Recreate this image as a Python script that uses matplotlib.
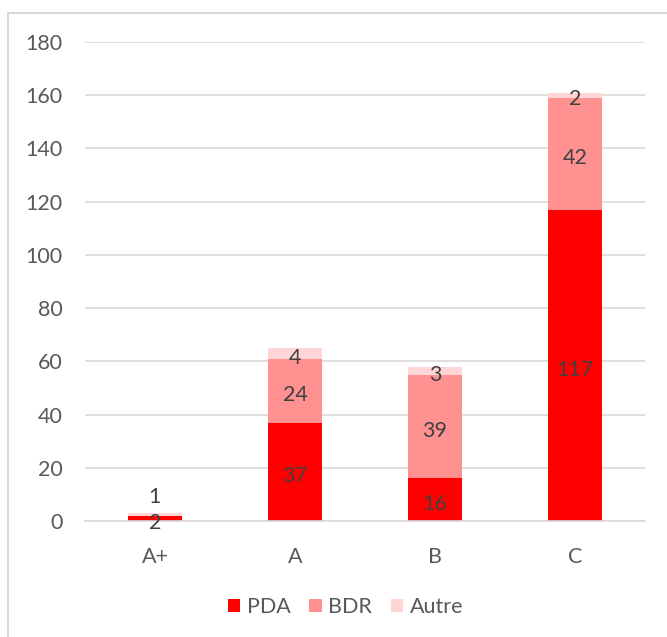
import matplotlib.pyplot as plt
import numpy as np
from matplotlib.lines import Line2D

plt.rcParams['font.family'] = ['Lato', 'DejaVu Sans']

categories = ['A+', 'A', 'B', 'C']
pda = [2, 37, 16, 117]
bdr = [0, 24, 39, 42]
autre = [1, 4, 3, 2]

colors = {'PDA': '#FF0000', 'BDR': '#FF9191', 'Autre': '#FFD5D5'}
text_color = '#595959'
label_color = '#404040'
fs = 15.5

fig = plt.figure(figsize=(6.67, 6.37), dpi=100)
ax = fig.add_axes([0.1274, 0.182, 0.8396, 0.752])

x = np.arange(len(categories))
width = 0.39
bottom = np.zeros(len(categories))
for name, vals in [('PDA', pda), ('BDR', bdr), ('Autre', autre)]:
  vals = np.array(vals, dtype=float)
  ax.bar(x, vals, width, bottom=bottom, color=colors[name], label=name, zorder=2)
  for xi, b, v in zip(x, bottom, vals):
    if v == 0:
      continue
    yc = b + v / 2
    # small stacked labels get pushed up so they don't collide
    if name == 'Autre' and b + v < 10:
      yc = 10.5
    ax.annotate(f'{int(v)}', (xi, yc), xytext=(0, -3),
                textcoords='offset points', ha='center', va='center',
                fontsize=fs, color=label_color, zorder=3)
  bottom += vals

ax.set_xlim(-0.5, len(categories) - 0.5)
ax.set_ylim(0, 180)
ax.set_yticks(np.arange(0, 181, 20))
ax.set_xticks(x)
ax.set_xticklabels(categories)
ax.yaxis.grid(True, color='#D9D9D9', linewidth=1.2, zorder=0)
ax.set_axisbelow(True)
for s in ['top', 'right', 'left']:
  ax.spines[s].set_visible(False)
ax.spines['bottom'].set_color('#D9D9D9')
ax.spines['bottom'].set_linewidth(1.2)
ax.tick_params(axis='both', length=0, labelsize=fs, labelcolor=text_color)
ax.tick_params(axis='y', pad=16)
ax.tick_params(axis='x', pad=19)

leg = fig.legend(loc='center', bbox_to_anchor=(0.518, 0.047), ncol=3,
                 frameon=False, fontsize=fs, handlelength=0.6,
                 handleheight=0.6, handletextpad=0.3, columnspacing=0.85)
for t in leg.get_texts():
  t.set_color(text_color)

# chart area border (left and top edges)
fig.add_artist(Line2D([0.012, 0.012], [0, 0.98], color='#D9D9D9', lw=1.5,
                      transform=fig.transFigure))
fig.add_artist(Line2D([0.012, 1.0], [0.98, 0.98], color='#D9D9D9', lw=1.5,
                      transform=fig.transFigure))

fig.savefig('out.png', dpi=100, facecolor='white')
